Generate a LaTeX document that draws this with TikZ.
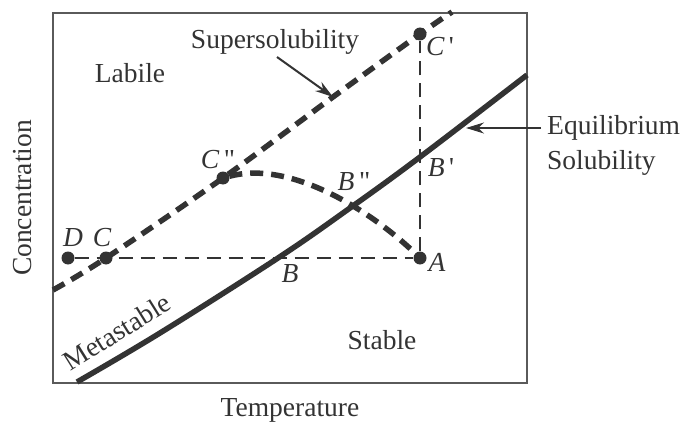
\documentclass[tikz,border=0pt]{standalone}
\usepackage{fontspec}
\setmainfont{Liberation Serif}
\usetikzlibrary{arrows.meta}
\definecolor{ink}{HTML}{333333}
\definecolor{frame}{HTML}{5A5A5A}
\begin{document}
\begin{tikzpicture}[x=1pt,y=-1pt,
    txt/.style={text=ink,font=\fontsize{27.5}{32}\selectfont,inner sep=0pt},
    dot/.style={circle,fill=ink,inner sep=0pt,minimum size=13pt},
    thinline/.style={ink,line width=1.5pt,dash pattern=on 14pt off 8pt},
    heavy/.style={ink,line width=5.5pt},
    heavydash/.style={ink,line width=5.5pt,dash pattern=on 13pt off 8pt},
    pointer/.style={ink,line width=2pt,-{Stealth[length=18pt,width=11pt]}}]
    \useasboundingbox (0,0) rectangle (686,428);
    \draw[frame,line width=2pt] (53,13) rectangle (527,383); %box
    % points
    \node[dot] (D) at (68,258) {};
    \node[dot] (C) at (106,258) {};
    \node[dot] (Cpp) at (223,178) {};
    \node[dot] (Cp) at (420,34) {};
    \node[dot] (A) at (420,258) {};
    \coordinate (B) at (278,258);
    \coordinate (Bp) at (420,157);
    \coordinate (Bpp) at (350,208);
    % guide lines
    \draw[thinline] (D) -- (A);
    \draw[thinline] (A) -- (Cp);
    % curves
    \draw[heavydash] plot[smooth,tension=.6] coordinates {(53,290) (C) (Cpp) (333,97) (Cp) (452,12)};
    \draw[heavy] plot[smooth,tension=.6] coordinates {(77,382) (160,333) (B) (Bpp) (Bp) (527,75)};
    \draw[heavydash] (Cpp) .. controls (290,160) and (370,210) .. (A);
    % labels
    \node[txt] (super) at (275,42) {Supersolubility};
    \node[txt] (labile) at (130,73) {Labile};
    \node[txt,anchor=west] (equil) at (547,128) {Equilibrium};
    \node[txt,anchor=west] (solub) at (547,163) {Solubility};
    \node[txt] (stable) at (382,340) {Stable};
    \node[txt,rotate=32] (meta) at (117,332) {Metastable};
    \node[txt] (temp) at (290,410) {Temperature};
    \node[txt,rotate=90] (conc) at (23,198) {Concentration};
    \node[txt] at (73,238) {\itshape D};
    \node[txt] at (102,238) {\itshape C};
    \node[txt] at (290,274) {\itshape B};
    \node[txt] at (437,262) {\itshape A};
    \node[txt] at (218,160) {{\itshape C}\,\textquotedbl};
    \node[txt] at (354,182) {{\itshape B}\,\textquotedbl};
    \node[txt] at (440,47) {{\itshape C}\,\textquotesingle};
    \node[txt] at (441,168) {{\itshape B}\,\textquotesingle};
    % arrows
    \coordinate (tipS) at (333,97);
    \coordinate (tipE) at (466,128);
    \draw[pointer] (277,57) -- (tipS);
    \draw[pointer] (equil.west) ++(-6,0) -- (tipE);
\end{tikzpicture}
\end{document}
